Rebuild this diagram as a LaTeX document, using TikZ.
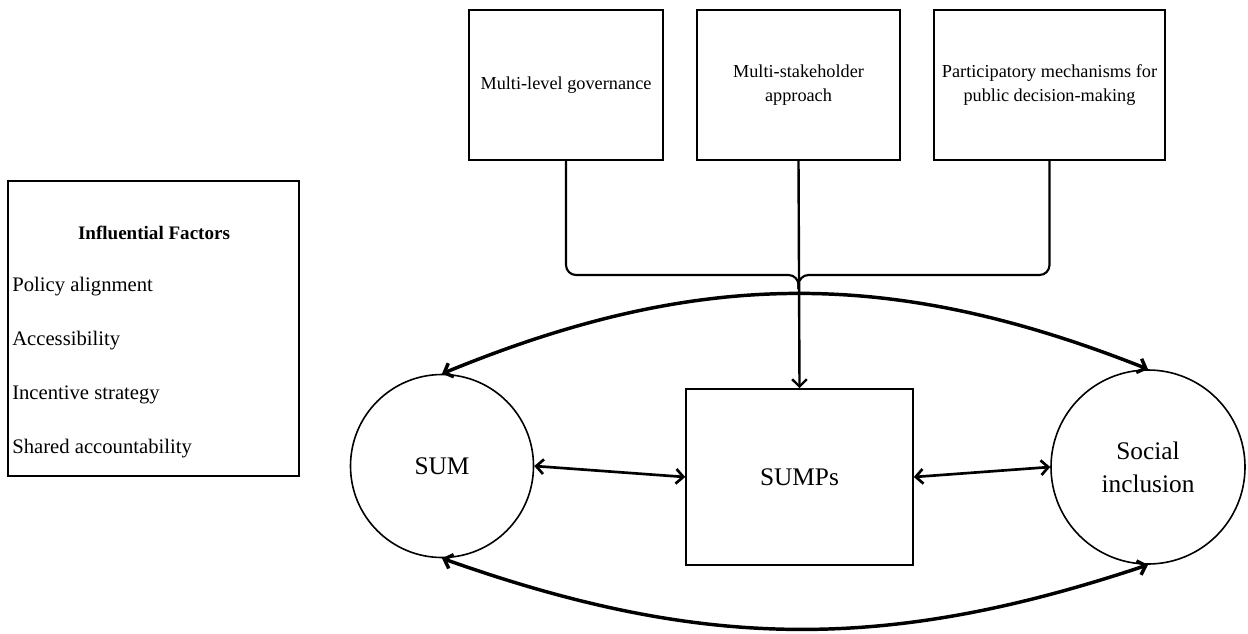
\documentclass[tikz,border=0pt]{standalone}
\usepackage{fontspec}
\setmainfont{Liberation Serif}
\usetikzlibrary{arrows.meta}

\begin{document}
\begin{tikzpicture} [x=0.75pt, y=-0.75pt,
	topbox/.style={rectangle, draw, line width=1.2pt, minimum height=112.5pt, align=center, inner sep=0pt, font=\fontsize{13.7}{18.5}\selectfont},
	bigcircle/.style={circle, draw, line width=1.2pt, align=center, inner sep=0pt, font=\fontsize{19}{25}\selectfont},
	factor/.style={anchor=west, inner sep=0pt, font=\fontsize{15.5}{18}\selectfont},
	link/.style={line width=1.6pt, rounded corners=7.5pt},
	barb/.tip={Straight Barb[length=5.5pt, width=11pt]},
	both/.style={barb-barb, line width=2pt},
	arc/.style={both, line width=2.6pt}]
	\useasboundingbox (0,0) rectangle (1248,633);

	\node [draw, line width=1.2pt, minimum width=218.25pt, minimum height=221.25pt] (factors) at (153.5,328.5) {};
	\node [font=\fontsize{14.3}{18}\selectfont\bfseries] (title) at (154,233) {Influential Factors};
	\foreach \f [count=\i] in {Policy alignment, Accessibility, Incentive strategy, Shared accountability}
		\node [factor] (f\i) at (12,233+53.8*\i) {\f};

	\node [topbox, minimum width=145.5pt] (mlg) at (566,85) {Multi-level governance};
	\node [topbox, minimum width=152.25pt] (msa) at (798.5,85) {Multi-stakeholder\\approach};
	\node [topbox, minimum width=173.25pt] (pmp) at (1049.5,85) {Participatory mechanisms for\\public decision-making};

	\node [draw, line width=1.2pt, minimum width=170.25pt, minimum height=132pt, font=\fontsize{19}{25}\selectfont] (sumps) at (799.5,477) {SUMPs};
	\node [bigcircle, minimum size=137.25pt] (sum) at (442,466) {SUM};
	\node [bigcircle, minimum size=145.5pt] (soc) at (1148,467) {Social\\inclusion};

	\coordinate (join) at (798.5,275);
	\draw [link] (mlg.south) |- (join) -- ++(0,14);
	\draw [link] (pmp.south) |- (join) -- ++(0,14);
	\draw [line width=1.8pt, -barb] (msa.south) -- (sumps.north);

	\draw [both] (sum.east) -- (sumps.west);
	\draw [both] (sumps.east) -- (soc.west);
	\draw [arc] (sum.north) to [bend left=22] (soc.north);
	\draw [arc] (sum.south) to [bend right=19] (soc.south);
\end{tikzpicture}
\end{document}
